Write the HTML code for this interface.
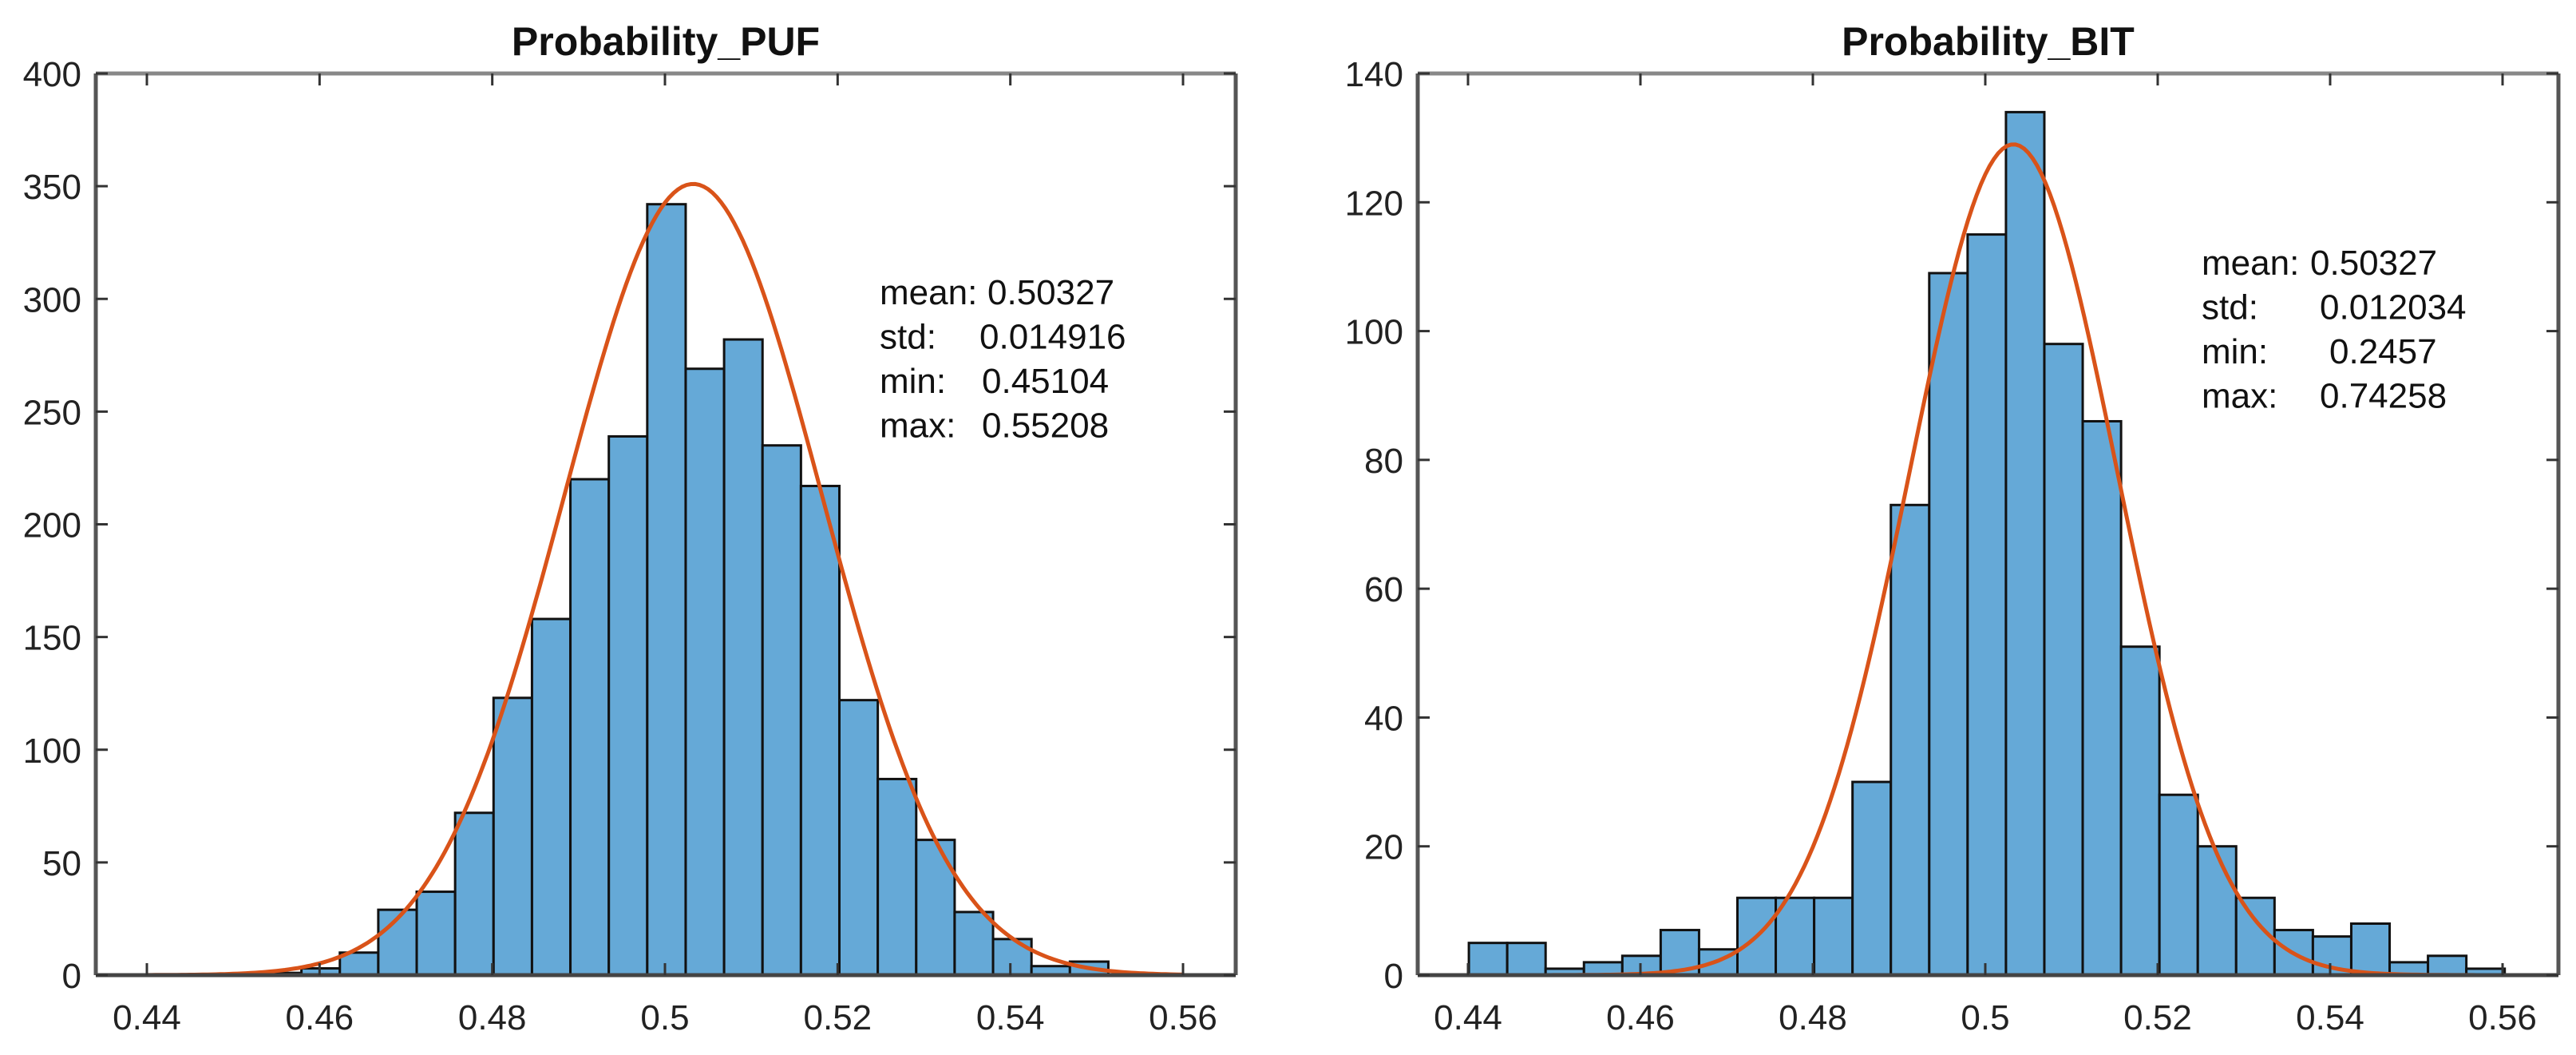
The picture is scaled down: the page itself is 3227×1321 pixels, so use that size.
<!DOCTYPE html>
<html><head><meta charset="utf-8">
<style>
html,body{margin:0;padding:0;background:#fff;}
svg{display:block;font-family:"Liberation Sans",sans-serif;}
</style></head>
<body>
<svg id="chart" width="3227" height="1321" viewBox="0 0 3227 1321" xmlns="http://www.w3.org/2000/svg"></svg>
<script>
// shared bin grid
const binStart = 0.4401;
const binWidth = 0.00445;
// Left: Probability_PUF counts (starting at bin index 3)
const pufOffset = 3;
const pufCounts = [1,3,10,29,37,72,123,158,220,239,342,269,282,235,217,122,87,60,28,16,4,6];
const pufFit = {mean:0.50327, std:0.014916, peak:351};
const pufStats = [["mean:","0.50327"],["std:","0.014916"],["min:","0.45104"],["max:","0.55208"]];
const pufYTicks = [0,50,100,150,200,250,300,350,400];
// Right: Probability_BIT counts (starting at bin index 0)
const bitOffset = 0;
const bitCounts = [5,5,1,2,3,7,4,12,12,12,30,73,109,115,134,98,86,51,28,20,12,7,6,8,2,3,1];
const bitFit = {mean:0.50327, std:0.012034, peak:129};
const bitStats = [["mean:","0.50327"],["std:","0.012034"],["min:","0.2457"],["max:","0.74258"]];
const bitYTicks = [0,20,40,60,80,100,120,140];
const xTicks = [0.44,0.46,0.48,0.5,0.52,0.54,0.56];
const xTickLabels = ["0.44","0.46","0.48","0.5","0.52","0.54","0.56"];

const NS = "http://www.w3.org/2000/svg";
const svg = document.getElementById("chart");
function mk(tag, attrs, parent){
  const e = document.createElementNS(NS, tag);
  for (const k in attrs) e.setAttribute(k, attrs[k]);
  (parent||svg).appendChild(e);
  return e;
}

function drawPanel(cfg){
  const g = mk("g", {});
  
  
  const L=cfg.left, R=cfg.right, T=92, B=1221;
  const xs = v => cfg.x44 + (v-0.44)/0.12*cfg.span;
  const ys = v => B - v/cfg.ymax*(B-T);
  // bars
  cfg.counts.forEach((c,i)=>{
    const x0 = binStart + (cfg.offset+i)*binWidth;
    const r = mk("rect", {x:xs(x0), y:ys(c), width:xs(x0+binWidth)-xs(x0), height:B-ys(c), fill:"#65a9d7", stroke:"#111", "stroke-width":3}, g);
    
    
  });
  // fit curve
  let d="";
  for(let k=0;k<=240;k++){
    const x=0.44+k*0.12/240;
    const y=cfg.fit.peak*Math.exp(-0.5*Math.pow((x-cfg.fit.mean)/cfg.fit.std,2));
    d += (k?"L":"M")+xs(x).toFixed(1)+","+ys(y).toFixed(1);
  }
  const p = mk("path",{d:d,fill:"none",stroke:"#d95319","stroke-width":5}, g);
  
  
  // axes box
  mk("line",{x1:L,y1:T,x2:R,y2:T,stroke:"#888","stroke-width":5},g);
  mk("line",{x1:L,y1:B,x2:R,y2:B,stroke:"#444","stroke-width":5},g);
  mk("line",{x1:L,y1:T,x2:L,y2:B,stroke:"#555","stroke-width":5},g);
  mk("line",{x1:R,y1:T,x2:R,y2:B,stroke:"#555","stroke-width":5},g);
  // x ticks
  xTicks.forEach((v,i)=>{
    const x=xs(v);
    mk("line",{x1:x,y1:B,x2:x,y2:B-15,stroke:"#333","stroke-width":3},g);
    mk("line",{x1:x,y1:T,x2:x,y2:T+15,stroke:"#333","stroke-width":3},g);
    const t=mk("text",{x:x,y:1289,"text-anchor":"middle","font-size":44,fill:"#222"},g);
    t.textContent=xTickLabels[i];
    
    
  });
  cfg.yticks.forEach(v=>{
    const y=ys(v);
    mk("line",{x1:L,y1:y,x2:L+15,y2:y,stroke:"#333","stroke-width":3},g);
    mk("line",{x1:R,y1:y,x2:R-15,y2:y,stroke:"#333","stroke-width":3},g);
    const t=mk("text",{x:L-18,y:y+16,"text-anchor":"end","font-size":44,fill:"#222"},g);
    t.textContent=String(v);
    
    
  });
  const tt=mk("text",{x:(L+R)/2,y:69,"text-anchor":"middle","font-size":50,"font-weight":"bold",fill:"#111"},g);
  tt.textContent=cfg.title;
  
  
  cfg.stats.forEach((s,i)=>{
    const y=cfg.statY+i*55.5;
    const a=mk("text",{x:cfg.statX,y:y,"font-size":44,fill:"#111"},g);
    a.textContent=s[0];
    
    
    const b=mk("text",{x:cfg.valX[i],y:y,"font-size":44,fill:"#111"},g);
    b.textContent=s[1];
    
    
  });
}

drawPanel({name:"puf-histogram-panel",title:"Probability_PUF",left:120,right:1548,x44:184,span:1298,ymax:400,
  counts:pufCounts,offset:pufOffset,fit:pufFit,yticks:pufYTicks,stats:pufStats,statX:1102,statY:381,valX:[1237,1227,1230,1230]});
drawPanel({name:"bit-histogram-panel",title:"Probability_BIT",left:1776,right:3205,x44:1839,span:1296,ymax:140,
  counts:bitCounts,offset:bitOffset,fit:bitFit,yticks:bitYTicks,stats:bitStats,statX:2758,statY:344,valX:[2894,2906,2918,2906]});
</script>
</body></html>
